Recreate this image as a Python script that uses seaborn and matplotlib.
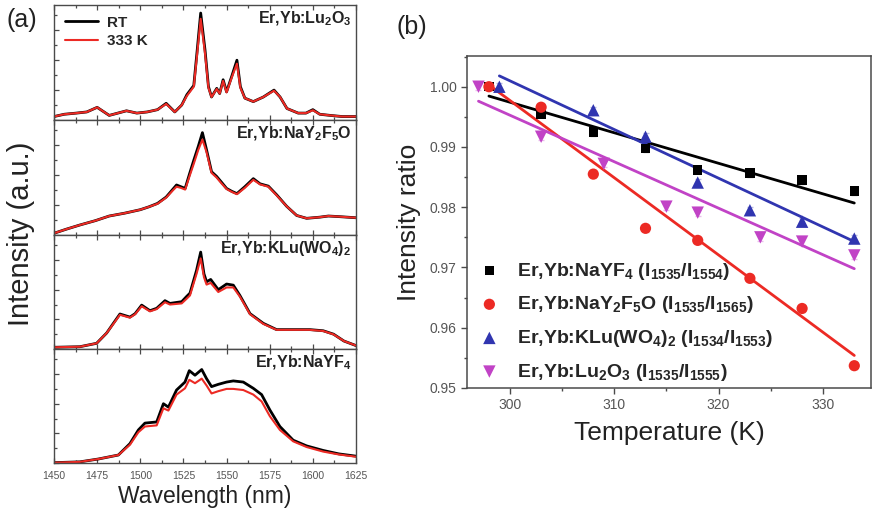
import numpy as np
import pandas as pd
import matplotlib
matplotlib.use("Agg")
import matplotlib.pyplot as plt
from matplotlib.ticker import MultipleLocator
import seaborn as sns

sns.set_theme(style="ticks")
plt.rcParams['font.family'] = ['Liberation Sans', 'DejaVu Sans']
plt.rcParams['mathtext.fontset'] = 'custom'
plt.rcParams['mathtext.rm'] = 'Liberation Sans'
plt.rcParams['mathtext.bf'] = 'Liberation Sans:bold'
plt.rcParams['mathtext.default'] = 'bf'

# ---------------- Panel (a) spectra ----------------
wl_lu2o3 = [1450, 1456, 1463, 1469, 1475, 1479, 1482, 1487, 1492, 1498, 1504, 1510, 1515, 1520, 1524,
            1527, 1531, 1533, 1535, 1537.5, 1539.5, 1541.3, 1544.3, 1546, 1548, 1550, 1553, 1556, 1558,
            1560.6, 1565.5, 1571.3, 1577.5, 1581, 1585, 1591.5, 1596, 1600, 1604, 1610, 1617, 1625]
rt_lu2o3 = [0.03, 0.05, 0.06, 0.07, 0.11, 0.07, 0.04, 0.06, 0.08, 0.06, 0.07, 0.09, 0.145, 0.07, 0.13,
            0.22, 0.30, 0.61, 0.93, 0.61, 0.29, 0.20, 0.275, 0.23, 0.35, 0.245, 0.38, 0.52, 0.29,
            0.19, 0.16, 0.20, 0.26, 0.20, 0.10, 0.06, 0.06, 0.09, 0.05, 0.04, 0.03, 0.03]
hot_lu2o3 = [0.03, 0.05, 0.06, 0.07, 0.11, 0.07, 0.04, 0.06, 0.08, 0.06, 0.07, 0.09, 0.14, 0.07, 0.13,
             0.21, 0.29, 0.58, 0.88, 0.58, 0.28, 0.20, 0.27, 0.23, 0.34, 0.24, 0.37, 0.49, 0.28,
             0.19, 0.16, 0.20, 0.255, 0.20, 0.10, 0.06, 0.06, 0.085, 0.05, 0.04, 0.03, 0.03]

wl_nay2f5o = [1450, 1457, 1465, 1474, 1482, 1491, 1500, 1505, 1510, 1515, 1519, 1521, 1523.5, 1526,
              1528.5, 1531, 1533.6, 1536, 1538.4, 1541.3, 1544.2, 1547, 1550, 1553, 1556, 1560.6,
              1565.5, 1569.4, 1574.2, 1579, 1584.8, 1590.6, 1596.4, 1604, 1609, 1615, 1620, 1625]
rt_nay2f5o = [0.015, 0.05, 0.087, 0.125, 0.165, 0.19, 0.22, 0.245, 0.275, 0.33, 0.40, 0.435, 0.42, 0.405,
              0.53, 0.65, 0.77, 0.89, 0.74, 0.55, 0.51, 0.46, 0.405, 0.38, 0.36, 0.42,
              0.49, 0.445, 0.425, 0.35, 0.25, 0.17, 0.145, 0.155, 0.165, 0.16, 0.155, 0.15]
hot_nay2f5o = [0.015, 0.05, 0.087, 0.125, 0.165, 0.19, 0.22, 0.245, 0.272, 0.325, 0.39, 0.42, 0.41, 0.395,
               0.51, 0.62, 0.74, 0.83, 0.72, 0.54, 0.50, 0.45, 0.40, 0.375, 0.355, 0.41,
               0.48, 0.44, 0.42, 0.345, 0.25, 0.17, 0.145, 0.155, 0.165, 0.16, 0.155, 0.15]

wl_klu = [1450, 1465, 1474.7, 1480.5, 1484.4, 1488.2, 1494, 1497, 1500.8, 1505.6, 1509.5, 1514.3, 1517.2,
          1524, 1526.8, 1528.8, 1532.6, 1535, 1536.9, 1538.4, 1540.8, 1545.2, 1550, 1553.9, 1557.7,
          1563.6, 1571.3, 1579, 1590.6, 1598.3, 1606, 1612, 1618, 1625]
rt_klu = [0.015, 0.02, 0.05, 0.14, 0.225, 0.307, 0.28, 0.31, 0.385, 0.336, 0.357, 0.424, 0.40,
          0.415, 0.46, 0.49, 0.69, 0.85, 0.66, 0.59, 0.61, 0.52, 0.57, 0.56, 0.47,
          0.31, 0.225, 0.17, 0.17, 0.17, 0.16, 0.13, 0.07, 0.03]
hot_klu = [0.015, 0.02, 0.05, 0.14, 0.22, 0.30, 0.275, 0.305, 0.375, 0.33, 0.35, 0.41, 0.39,
           0.40, 0.44, 0.47, 0.66, 0.795, 0.63, 0.565, 0.58, 0.50, 0.54, 0.54, 0.46,
           0.305, 0.22, 0.168, 0.168, 0.168, 0.158, 0.128, 0.07, 0.03]

wl_nayf4 = [1450, 1465, 1475.7, 1487.3, 1494, 1498.9, 1502.7, 1509.5, 1513.4, 1516.3, 1521, 1525.9,
            1528.4, 1531.7, 1535.6, 1538.4, 1541.3, 1545.2, 1550, 1553.9, 1559.7, 1565.5, 1570.3,
            1575.1, 1580.9, 1588.6, 1596.4, 1606, 1615, 1625]
rt_nayf4 = [0.003, 0.01, 0.035, 0.07, 0.17, 0.29, 0.35, 0.36, 0.52, 0.49, 0.64, 0.71,
            0.81, 0.77, 0.82, 0.74, 0.67, 0.69, 0.71, 0.72, 0.71, 0.655, 0.60,
            0.465, 0.32, 0.20, 0.15, 0.11, 0.08, 0.06]
hot_nayf4 = [0.003, 0.01, 0.035, 0.07, 0.16, 0.27, 0.32, 0.33, 0.48, 0.46, 0.60, 0.655,
             0.73, 0.70, 0.74, 0.68, 0.61, 0.63, 0.65, 0.65, 0.64, 0.60, 0.54,
             0.41, 0.29, 0.19, 0.14, 0.10, 0.075, 0.055]

spec_labels = [r'Er,Yb:Lu$_{2}$O$_{3}$', r'Er,Yb:NaY$_{2}$F$_{5}$O',
               r'Er,Yb:KLu(WO$_{4}$)$_{2}$', r'Er,Yb:NaYF$_{4}$']

# ---------------- Panel (b) intensity ratios ----------------
T_nayf4 = [298, 303, 308, 313, 318, 323, 328, 333]
R_nayf4 = [1.000, 0.9955, 0.9925, 0.9898, 0.9862, 0.9857, 0.9845, 0.9827]
T_nay2f5o = [298, 303, 308, 313, 318, 323, 328, 333]
R_nay2f5o = [1.000, 0.9966, 0.9855, 0.9765, 0.9745, 0.9682, 0.9632, 0.9537]
T_klu = [299, 308, 313, 318, 323, 328, 333]
R_klu = [1.000, 0.9961, 0.9917, 0.9841, 0.9795, 0.9776, 0.9748]
T_lu2o3 = [297, 303, 309, 315, 318, 324, 328, 333]
R_lu2o3 = [1.000, 0.9917, 0.9872, 0.9801, 0.9791, 0.9750, 0.9743, 0.9720]
err = 0.0006

# linear fit lines (end points)
fitT_nayf4, fitR_nayf4 = [298, 333], [0.99845, 0.9807]
fitT_nay2f5o, fitR_nay2f5o = [298, 333], [1.0003, 0.9554]
fitT_klu, fitR_klu = [299, 333], [1.0018, 0.9743]
fitT_lu2o3, fitR_lu2o3 = [297, 333], [0.9976, 0.9698]

ratio_labels = [r'Er,Yb:NaYF$_{4}$ (I$_{1535}$/I$_{1554}$)',
                r'Er,Yb:NaY$_{2}$F$_{5}$O (I$_{1535}$/I$_{1565}$)',
                r'Er,Yb:KLu(WO$_{4}$)$_{2}$ (I$_{1534}$/I$_{1553}$)',
                r'Er,Yb:Lu$_{2}$O$_{3}$ (I$_{1535}$/I$_{1555}$)']

RED = '#ec2a24'
BLUE = '#3035b0'
PURP = '#c143c6'
SPINE = '#4a4a4a'
TICKC = '#555555'

W, H = 873, 519
fig = plt.figure(figsize=(W / 100, H / 100), dpi=100)

# ---- panel (a) ----
tops = [5, 120, 235, 349]
bots = [120, 235, 349, 463]
spectra = [(wl_lu2o3, rt_lu2o3, hot_lu2o3), (wl_nay2f5o, rt_nay2f5o, hot_nay2f5o),
           (wl_klu, rt_klu, hot_klu), (wl_nayf4, rt_nayf4, hot_nayf4)]
axes_a = []
for i in range(4):
    ax = fig.add_axes([54 / W, (H - bots[i]) / H, 302 / W, (bots[i] - tops[i]) / H])
    wl, rt, hot = spectra[i]
    sns.lineplot(x=wl, y=rt, ax=ax, color='black', lw=2.0, label='RT' if i == 0 else None)
    sns.lineplot(x=wl, y=hot, ax=ax, color=RED, lw=1.5, label='333 K' if i == 0 else None)
    ax.set_xlim(1450, 1625)
    ax.set_ylim(0, 1.0)
    ax.xaxis.set_major_locator(MultipleLocator(25))
    ax.xaxis.set_minor_locator(MultipleLocator(12.5))
    ax.yaxis.set_major_locator(MultipleLocator(0.26))
    ax.yaxis.set_minor_locator(MultipleLocator(0.13))
    ax.tick_params(which='both', direction='in', top=True, bottom=True, left=True, right=False,
                   color=SPINE, width=0.9)
    ax.tick_params(which='major', length=3.5)
    ax.tick_params(which='minor', length=2)
    ax.set_yticklabels([])
    for s in ax.spines.values():
        s.set_color(SPINE)
        s.set_linewidth(1.0)
    if i < 3:
        ax.set_xticklabels([])
    else:
        ax.tick_params(axis='x', labelsize=7.5, labelcolor=TICKC, pad=6)
    ax.set_xlabel('')
    ax.set_ylabel('')
    ax.text(0.985, 0.88, spec_labels[i], transform=ax.transAxes, ha='right', va='center',
            fontsize=11.5, fontweight='bold', color='#222222')
    if i == 0:
        ax.legend(loc='upper left', frameon=False, prop={'weight': 'bold', 'size': 11},
                  handlelength=2.2, handletextpad=0.6, borderaxespad=0.3, labelspacing=0.3)
    axes_a.append(ax)

fig.text(205 / W, 1 - 497 / H, 'Wavelength (nm)', ha='center', va='center', fontsize=16.5, color='#222222')
fig.text(21 / W, 1 - 234 / H, 'Intensity (a.u.)', ha='center', va='center', rotation=90,
         fontsize=21, color='#222222')
fig.text(6 / W, 1 - 20 / H, '(a)', ha='left', va='center', fontsize=18, color='#222222')
fig.text(397 / W, 1 - 27 / H, '(b)', ha='left', va='center', fontsize=18, color='#222222')

# ---- panel (b) ----
axb = fig.add_axes([467 / W, (H - 388) / H, 404 / W, 332 / H])
series = [
    (T_nayf4, R_nayf4, fitT_nayf4, fitR_nayf4, 'black', 's', 45),
    (T_nay2f5o, R_nay2f5o, fitT_nay2f5o, fitR_nay2f5o, RED, 'o', 65),
    (T_klu, R_klu, fitT_klu, fitR_klu, BLUE, '^', 80),
    (T_lu2o3, R_lu2o3, fitT_lu2o3, fitR_lu2o3, PURP, 'v', 80),
]
for (T, R, fT, fR, c, m, s), lab in zip(series, ratio_labels):
    axb.errorbar(T, R, yerr=err, fmt='none', ecolor=c, elinewidth=0.6, capsize=2, alpha=0.35, zorder=2)
    sns.lineplot(x=fT, y=fR, ax=axb, color=c, lw=2.0, zorder=3)
for (T, R, fT, fR, c, m, s), lab in zip(series, ratio_labels):
    sns.scatterplot(x=T, y=R, ax=axb, color=c, marker=m, s=s, edgecolor='none', zorder=4, label=lab)

axb.set_xlim(295.9, 334.6)
axb.set_ylim(0.95, 1.0051)
axb.xaxis.set_major_locator(MultipleLocator(10))
axb.xaxis.set_minor_locator(MultipleLocator(5))
axb.yaxis.set_major_locator(MultipleLocator(0.01))
axb.yaxis.set_minor_locator(MultipleLocator(0.005))
axb.set_yticks([0.95, 0.96, 0.97, 0.98, 0.99, 1.00])
axb.set_yticklabels(['0.95', '0.96', '0.97', '0.98', '0.99', '1.00'])
axb.tick_params(which='both', direction='out', color=SPINE, width=1.0, labelsize=10, labelcolor=TICKC)
axb.tick_params(which='major', length=4)
axb.tick_params(which='minor', length=2.5)
for s in axb.spines.values():
    s.set_color(SPINE)
    s.set_linewidth(1.1)
axb.set_xlabel('Temperature (K)', fontsize=19, color='#222222', labelpad=6)
axb.set_ylabel('Intensity ratio', fontsize=19, color='#222222', labelpad=6)
axb.legend(loc='lower left', frameon=False, prop={'weight': 'bold', 'size': 14},
           handlelength=1.0, handletextpad=0.9, borderaxespad=0.25, labelspacing=0.65,
           bbox_to_anchor=(0.0, -0.022))

fig.savefig('out.png', dpi=100)
